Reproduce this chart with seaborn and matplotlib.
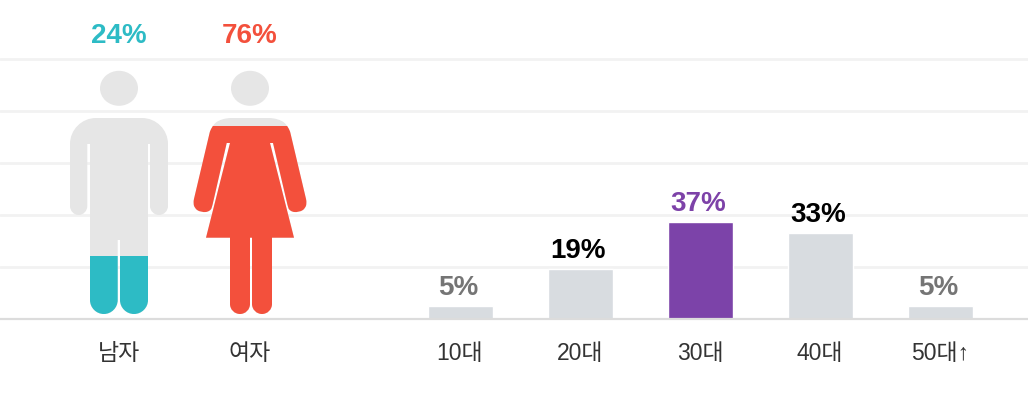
import matplotlib
matplotlib.use("Agg")
import matplotlib.pyplot as plt
import seaborn as sns
from matplotlib.patches import Ellipse, PathPatch, Rectangle
from matplotlib.path import Path

age_labels = ["10대", "20대", "30대", "40대", "50대↑"]
age_shares = [5, 19, 37, 33, 5]
age_colors = ["#d8dce0", "#d8dce0", "#7c43a9", "#d8dce0", "#d8dce0"]
age_text_colors = ["#757575", "#000000", "#7d42a8", "#000000", "#757575"]

gender_labels = ["남자", "여자"]
gender_shares = [24, 76]
gender_colors = ["#2dbbc5", "#f3503c"]

sns.set_theme(style="white")
plt.rcParams["font.family"] = ["Liberation Sans", "Noto Sans CJK KR", "DejaVu Sans"]

W, H = 1028, 402
BASE_Y = 319.5
PX_PER_PCT = 2.6
ICON_BOTTOM = 315

fig = plt.figure(figsize=(W / 100, H / 100), dpi=100)
ax = fig.add_axes([0, (H - BASE_Y) / H, 1, BASE_Y / H])

sns.barplot(x=age_labels, y=age_shares, hue=age_labels, palette=age_colors,
            legend=False, width=65 / 120, saturation=1, ax=ax)

# one category step is 120px, first bar centred at x=460
ax.set_xlim(-460 / 120, (W - 460) / 120)
ax.set_ylim(0, BASE_Y / PX_PER_PCT)
ax.set_yticks([0, 20, 40, 60, 80, 100])
ax.set_yticklabels([])
ax.set_axisbelow(True)
ax.grid(axis="y", color="#f2f2f2", lw=2.0)
ax.grid(axis="x", visible=False)
for side in ["top", "left", "right"]:
    ax.spines[side].set_visible(False)
ax.spines["bottom"].set_color("#dcdcdc")
ax.spines["bottom"].set_linewidth(1.6)

gender_x = [119, 250]
tick_pos = [(x - 460) / 120 for x in gender_x] + list(range(len(age_labels)))
ax.set_xticks(tick_pos)
ax.set_xticklabels(gender_labels + age_labels, fontsize=16.5, color="#333333")
ax.tick_params(axis="x", length=0, pad=16)
ax.tick_params(axis="y", length=0)

for i, (val, col) in enumerate(zip(age_shares, age_text_colors)):
    ax.annotate(f"{val}%", (i, val), xytext=(-1.4, 8.6), textcoords="offset points",
                ha="center", va="baseline", fontsize=20, fontweight="bold", color=col)

# overlay in pixel coordinates for the two pictograms
ov = fig.add_axes([0, 0, 1, 1], facecolor="none")
ov.set_xlim(0, W)
ov.set_ylim(H, 0)
ov.axis("off")


def rounded(pts):
    # pts: (x, y, corner radius), closed polygon with near-circular corners
    verts, codes = [], []
    n = len(pts)
    for i, (x, y, r) in enumerate(pts):
        px, py, _ = pts[i - 1]
        nx, ny, _ = pts[(i + 1) % n]
        d1 = ((px - x) ** 2 + (py - y) ** 2) ** 0.5
        d2 = ((nx - x) ** 2 + (ny - y) ** 2) ** 0.5
        a = min(r, d1 / 2) / d1
        b = min(r, d2 / 2) / d2
        p0 = (x + (px - x) * a, y + (py - y) * a)
        p2 = (x + (nx - x) * b, y + (ny - y) * b)
        c1 = (p0[0] + 0.55 * (x - p0[0]), p0[1] + 0.55 * (y - p0[1]))
        c2 = (p2[0] + 0.55 * (x - p2[0]), p2[1] + 0.55 * (y - p2[1]))
        verts.append(p0)
        codes.append(Path.MOVETO if i == 0 else Path.LINETO)
        verts += [c1, c2, p2]
        codes += [Path.CURVE4, Path.CURVE4, Path.CURVE4]
    verts.append(verts[0])
    codes.append(Path.CLOSEPOLY)
    return Path(verts, codes)


man_body = rounded([
    (87.3, 145, 0), (87.3, 216, 9), (70, 216, 9), (70, 119, 26), (168, 119, 26),
    (168, 216, 9), (150, 216, 9), (150, 145, 0), (148, 145, 0), (148, 315, 14),
    (120, 315, 14), (120, 241, 0), (117.7, 241, 0), (117.7, 315, 14), (90, 315, 14),
    (90, 145, 0),
])
woman_body = rounded([
    (226.7, 144, 0), (212.5, 206, 0), (210.5, 212.5, 5), (201, 213.5, 6), (194, 209, 5),
    (193.5, 202, 2), (211, 128, 6), (221, 119, 10), (279, 119, 10), (289, 128, 6),
    (306.5, 202, 2), (306, 209, 5), (299, 213.5, 6), (289.5, 212.5, 5), (287.5, 206, 0),
    (273, 144, 0), (270, 144, 0), (294, 238.7, 0), (272, 238.7, 0), (272, 315, 10),
    (252, 315, 10), (252, 238.7, 0), (250, 238.7, 0), (250, 315, 10), (230, 315, 10),
    (230, 238.7, 0), (206, 238.7, 0), (230, 144, 0),
])
bodies = [man_body, woman_body]
head_x = [119, 250]
# pixels of picture height that stand for 100%
fill_spans = [243, 247.4]

for body, hx, share, col, span in zip(bodies, head_x, gender_shares, gender_colors, fill_spans):
    ov.add_patch(Ellipse((hx, 89.3), 38, 35, fc="#e6e6e6", ec="none"))
    ov.add_patch(PathPatch(body, fc="#e6e6e6", ec="none"))
    top = ICON_BOTTOM - share / 100 * span
    level = Rectangle((0, top), W, ICON_BOTTOM - top + 5, transform=ov.transData)
    filled = PathPatch(body, fc=col, ec="none")
    ov.add_patch(filled)
    filled.set_clip_path(level)
    ov.text(hx, 43, f"{share}%", ha="center", va="baseline",
            fontsize=20, fontweight="bold", color=col)

fig.savefig("out.png", dpi=100)
